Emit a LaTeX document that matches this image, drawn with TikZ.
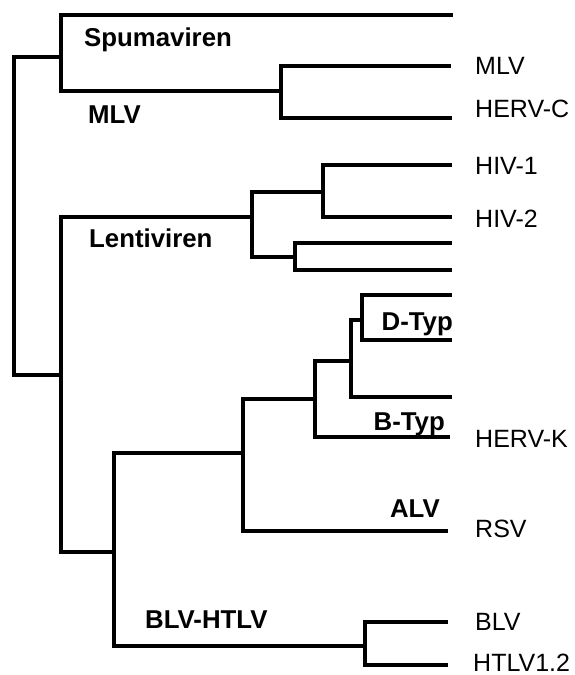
\documentclass[tikz,border=0pt]{standalone}
\usepackage{fontspec}
\setmainfont{Liberation Sans}
\begin{document}
\begin{tikzpicture}[
    x=1pt, y=-1pt,
    branch/.style = {line width=3.2pt, line join=miter},
    taxon/.style = {anchor=base west, inner sep=0pt, font=\fontsize{25}{30}\selectfont},
    clade/.style = {inner sep=0pt, font=\fontsize{25.8}{30}\selectfont\bfseries}
]
\useasboundingbox (0,0) rectangle (575,675);

% inner nodes
\coordinate (root) at (14,216);
\coordinate (spuma) at (61,57);
\coordinate (gamma) at (281,91);
\coordinate (ortho) at (61,375);
\coordinate (lenti) at (252,217);
\coordinate (hiv) at (323,192);
\coordinate (lentiB) at (295,257);
\coordinate (deep) at (114,552);
\coordinate (alpha) at (243,453);
\coordinate (beta) at (315,399);
\coordinate (betaD) at (351,361);
\coordinate (dtyp) at (362,320);
\coordinate (delta) at (365,646);

% tips
\coordinate (spumaTip) at (453,15);
\coordinate (mlvTip) at (451,66);
\coordinate (hervcTip) at (452,118);
\coordinate (hivOneTip) at (452,165);
\coordinate (hivTwoTip) at (452,217);
\coordinate (lentiTipA) at (452,243);
\coordinate (lentiTipB) at (452,270);
\coordinate (dTipA) at (452,295);
\coordinate (dTipB) at (452,340);
\coordinate (betaTip) at (452,397);
\coordinate (hervkTip) at (450,437);
\coordinate (rsvTip) at (448,531);
\coordinate (blvTip) at (448,622);
\coordinate (htlvTip) at (448,665);

% branches
\draw[branch] (root) |- (spuma);
\draw[branch] (root) |- (ortho);
\draw[branch] (spuma) |- (spumaTip);
\draw[branch] (spuma) |- (gamma);
\draw[branch] (gamma) |- (mlvTip);
\draw[branch] (gamma) |- (hervcTip);
\draw[branch] (ortho) |- (lenti);
\draw[branch] (ortho) |- (deep);
\draw[branch] (lenti) |- (hiv);
\draw[branch] (lenti) |- (lentiB);
\draw[branch] (hiv) |- (hivOneTip);
\draw[branch] (hiv) |- (hivTwoTip);
\draw[branch] (lentiB) |- (lentiTipA);
\draw[branch] (lentiB) |- (lentiTipB);
\draw[branch] (deep) |- (alpha);
\draw[branch] (deep) |- (delta);
\draw[branch] (alpha) |- (beta);
\draw[branch] (alpha) |- (rsvTip);
\draw[branch] (beta) |- (betaD);
\draw[branch] (beta) |- (hervkTip);
\draw[branch] (betaD) |- (dtyp);
\draw[branch] (betaD) |- (betaTip);
\draw[branch] (dtyp) |- (dTipA);
\draw[branch] (dtyp) |- (dTipB);
\draw[branch] (delta) |- (blvTip);
\draw[branch] (delta) |- (htlvTip);

% clade names
\node[clade, anchor=base west] (spumaLabel) at (84,46) {Spumaviren};
\node[clade, anchor=base west] (mlvClade) at (88,123) {MLV};
\node[clade, anchor=base west] (lentiLabel) at (89,247) {Lentiviren};
\node[clade, anchor=base east] (dLabel) at (453,330) {D-Typ};
\node[clade, anchor=base east] (bLabel) at (445,430) {B-Typ};
\node[clade, anchor=base east] (alvLabel) at (440,517) {ALV};
\node[clade, anchor=base west] (htlvClade) at (145,628) {BLV-HTLV};

% virus names
\node[taxon] (mlv) at (475,74) {MLV};
\node[taxon] (hervc) at (475,117) {HERV-C};
\node[taxon] (hivOne) at (475,174) {HIV-1};
\node[taxon] (hivTwo) at (475,227) {HIV-2};
\node[taxon] (hervk) at (475,447) {HERV-K};
\node[taxon] (rsv) at (475,537) {RSV};
\node[taxon] (blv) at (475,630) {BLV};
\node[taxon] (htlv) at (473,671) {HTLV1.2};
\end{tikzpicture}
\end{document}
